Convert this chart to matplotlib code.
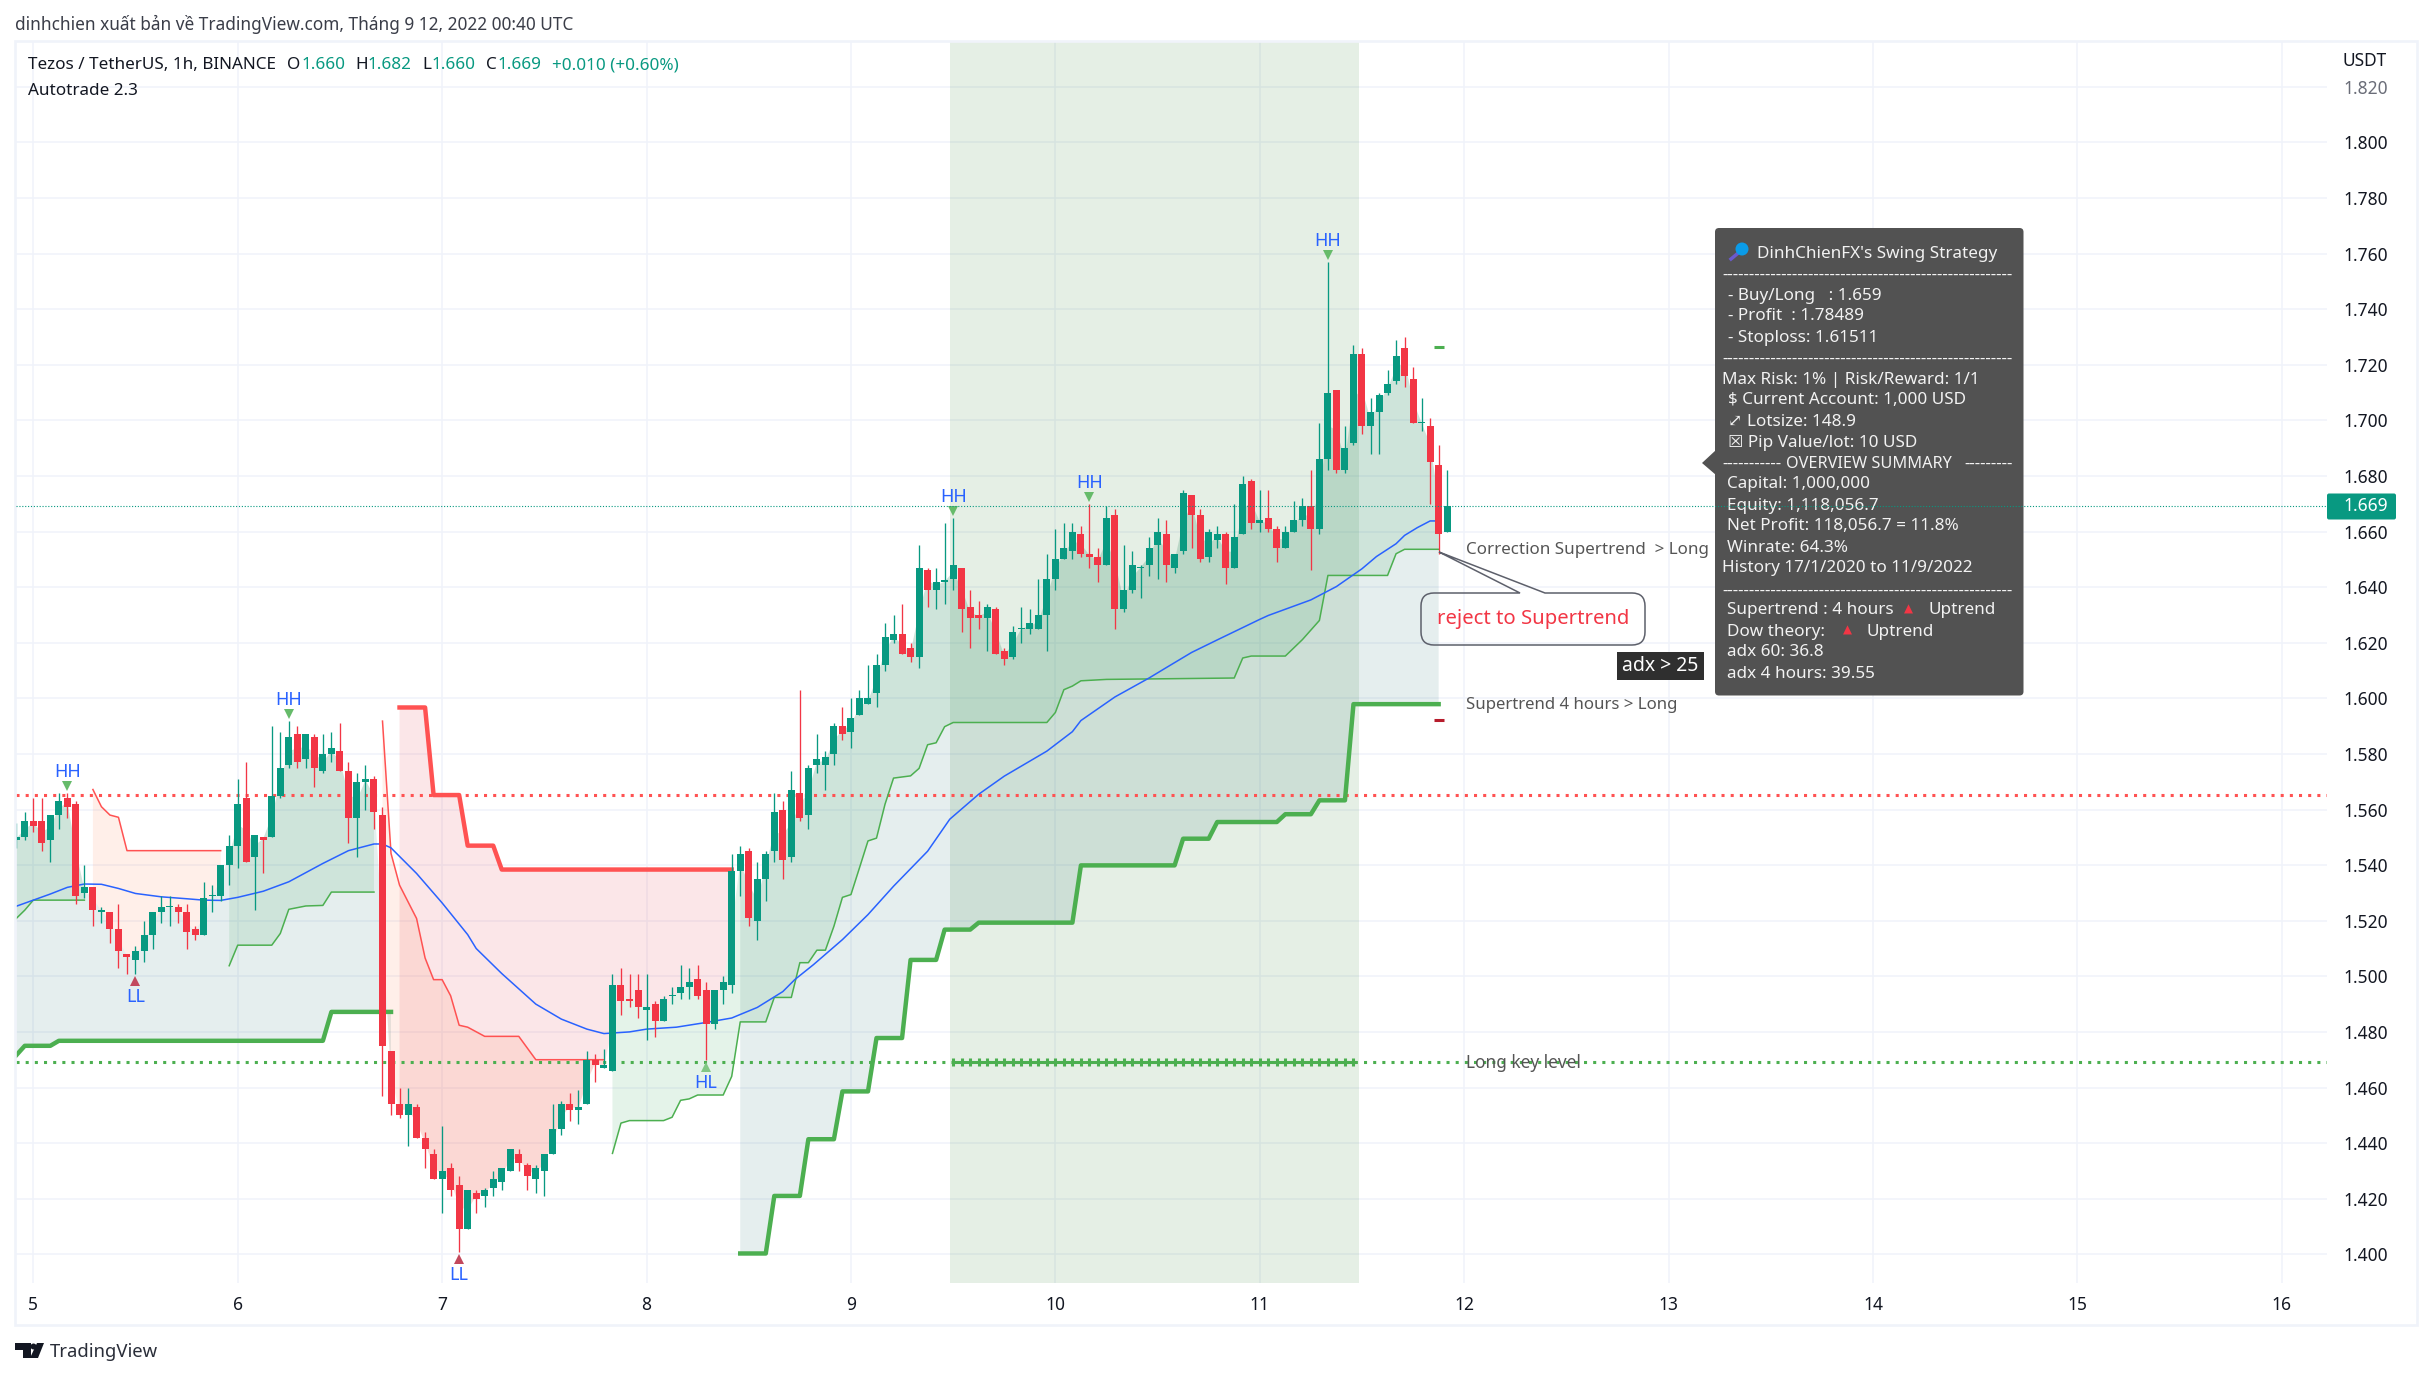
#!/usr/bin/env python3
# XTZ/USDT 1h TradingView screenshot, rebuilt with supertrend bands and tooltip.
# Bars are indexed by hours after 5 Sep 00:00, so bar 24 is the "6" tick.
import numpy as np
import matplotlib
matplotlib.use("Agg")
import matplotlib.pyplot as plt
from matplotlib import font_manager
from matplotlib.ft2font import FT2Font
from matplotlib.patches import Rectangle, FancyBboxPatch, Polygon, Circle, PathPatch
from matplotlib.path import Path
from matplotlib.lines import Line2D
from matplotlib.transforms import Affine2D, offset_copy

plt.rcParams["font.family"] = ["Noto Sans", "DejaVu Sans"]

FIRST_BAR = -2
opens = [
    1.549, 1.550, 1.556, 1.556, 1.549, 1.558, 1.564, 1.562, 1.530, 1.532,
    1.523, 1.523, 1.517, 1.508, 1.506, 1.509, 1.515, 1.523, 1.525, 1.525,
    1.523, 1.517, 1.515, 1.529, 1.529, 1.540, 1.547, 1.564, 1.543, 1.550,
    1.550, 1.565, 1.576, 1.587, 1.578, 1.586, 1.574, 1.580, 1.581, 1.574,
    1.557, 1.570, 1.571, 1.558, 1.473, 1.454, 1.450, 1.453, 1.442, 1.436,
    1.427, 1.431, 1.425, 1.409, 1.422, 1.421, 1.424, 1.426, 1.430, 1.436,
    1.432, 1.427, 1.430, 1.436, 1.445, 1.454, 1.452, 1.454, 1.470, 1.467,
    1.466, 1.497, 1.492, 1.495, 1.488, 1.490, 1.484, 1.493, 1.494, 1.496,
    1.499, 1.495, 1.483, 1.495, 1.497, 1.538, 1.545, 1.520, 1.535, 1.545,
    1.560, 1.543, 1.566, 1.558, 1.576, 1.576, 1.580, 1.590, 1.588, 1.594,
    1.598, 1.602, 1.612, 1.621, 1.623, 1.618, 1.615, 1.646, 1.639, 1.642,
    1.643, 1.647, 1.633, 1.630, 1.629, 1.632, 1.617, 1.615, 1.625, 1.625,
    1.625, 1.630, 1.643, 1.650, 1.653, 1.659, 1.652, 1.651, 1.648, 1.666,
    1.632, 1.639, 1.647, 1.648, 1.655, 1.659, 1.647, 1.653, 1.673, 1.666,
    1.651, 1.657, 1.659, 1.647, 1.659, 1.678, 1.663, 1.665, 1.661, 1.654,
    1.660, 1.664, 1.669, 1.661, 1.686, 1.711, 1.682, 1.692, 1.724, 1.698,
    1.703, 1.710, 1.714, 1.726, 1.715, 1.699, 1.698, 1.684, 1.660,
]
highs = [
    1.555, 1.559, 1.564, 1.564, 1.558, 1.566, 1.566, 1.563, 1.540, 1.532,
    1.525, 1.523, 1.526, 1.508, 1.511, 1.520, 1.523, 1.529, 1.529, 1.526,
    1.526, 1.518, 1.534, 1.533, 1.540, 1.551, 1.571, 1.577, 1.551, 1.550,
    1.590, 1.588, 1.592, 1.590, 1.587, 1.587, 1.587, 1.588, 1.591, 1.577,
    1.573, 1.576, 1.572, 1.561, 1.473, 1.460, 1.460, 1.454, 1.444, 1.438,
    1.446, 1.433, 1.428, 1.423, 1.423, 1.424, 1.430, 1.431, 1.438, 1.438,
    1.433, 1.432, 1.436, 1.454, 1.455, 1.458, 1.459, 1.473, 1.472, 1.474,
    1.501, 1.503, 1.501, 1.501, 1.501, 1.491, 1.493, 1.496, 1.504, 1.503,
    1.504, 1.498, 1.495, 1.500, 1.544, 1.547, 1.546, 1.541, 1.545, 1.566,
    1.563, 1.574, 1.603, 1.576, 1.587, 1.581, 1.591, 1.597, 1.600, 1.603,
    1.612, 1.616, 1.627, 1.630, 1.634, 1.620, 1.655, 1.647, 1.647, 1.663,
    1.665, 1.647, 1.639, 1.635, 1.634, 1.633, 1.618, 1.626, 1.633, 1.632,
    1.643, 1.652, 1.661, 1.663, 1.663, 1.662, 1.670, 1.654, 1.669, 1.668,
    1.655, 1.653, 1.648, 1.658, 1.665, 1.664, 1.652, 1.675, 1.673, 1.668,
    1.661, 1.662, 1.660, 1.670, 1.680, 1.679, 1.675, 1.675, 1.662, 1.662,
    1.671, 1.672, 1.682, 1.699, 1.757, 1.711, 1.698, 1.727, 1.726, 1.708,
    1.710, 1.718, 1.729, 1.730, 1.719, 1.708, 1.701, 1.691, 1.682,
]
lows = [
    1.546, 1.549, 1.552, 1.545, 1.541, 1.553, 1.557, 1.526, 1.528, 1.518,
    1.519, 1.512, 1.503, 1.501, 1.501, 1.505, 1.510, 1.519, 1.518, 1.519,
    1.510, 1.513, 1.515, 1.523, 1.527, 1.533, 1.539, 1.541, 1.524, 1.537,
    1.550, 1.564, 1.575, 1.575, 1.575, 1.568, 1.573, 1.577, 1.574, 1.548,
    1.543, 1.560, 1.553, 1.457, 1.450, 1.449, 1.439, 1.442, 1.431, 1.427,
    1.415, 1.421, 1.401, 1.409, 1.415, 1.417, 1.421, 1.423, 1.430, 1.430,
    1.423, 1.422, 1.421, 1.436, 1.443, 1.448, 1.447, 1.454, 1.462, 1.467,
    1.466, 1.486, 1.489, 1.485, 1.477, 1.478, 1.484, 1.490, 1.492, 1.492,
    1.492, 1.470, 1.481, 1.490, 1.494, 1.529, 1.518, 1.513, 1.527, 1.541,
    1.535, 1.541, 1.556, 1.553, 1.573, 1.567, 1.576, 1.585, 1.582, 1.594,
    1.598, 1.597, 1.610, 1.620, 1.616, 1.613, 1.611, 1.633, 1.632, 1.634,
    1.639, 1.624, 1.618, 1.625, 1.617, 1.616, 1.612, 1.614, 1.620, 1.623,
    1.625, 1.617, 1.639, 1.650, 1.650, 1.651, 1.647, 1.642, 1.648, 1.625,
    1.631, 1.638, 1.636, 1.644, 1.643, 1.642, 1.645, 1.652, 1.654, 1.649,
    1.649, 1.654, 1.641, 1.647, 1.659, 1.661, 1.660, 1.660, 1.649, 1.654,
    1.660, 1.662, 1.646, 1.659, 1.682, 1.681, 1.681, 1.691, 1.695, 1.688,
    1.688, 1.709, 1.713, 1.712, 1.699, 1.696, 1.670, 1.652, 1.660,
]
closes = [
    1.550, 1.556, 1.554, 1.548, 1.558, 1.563, 1.561, 1.529, 1.532, 1.524,
    1.524, 1.517, 1.509, 1.507, 1.509, 1.515, 1.523, 1.525, 1.525, 1.523,
    1.516, 1.515, 1.528, 1.529, 1.540, 1.547, 1.562, 1.541, 1.551, 1.549,
    1.565, 1.575, 1.586, 1.577, 1.587, 1.575, 1.580, 1.582, 1.574, 1.557,
    1.570, 1.571, 1.559, 1.475, 1.454, 1.450, 1.454, 1.442, 1.438, 1.427,
    1.430, 1.423, 1.409, 1.423, 1.420, 1.423, 1.427, 1.431, 1.438, 1.433,
    1.428, 1.431, 1.436, 1.445, 1.454, 1.452, 1.453, 1.470, 1.468, 1.468,
    1.497, 1.491, 1.491, 1.489, 1.489, 1.484, 1.492, 1.493, 1.496, 1.498,
    1.493, 1.483, 1.495, 1.498, 1.538, 1.544, 1.521, 1.535, 1.544, 1.559,
    1.542, 1.567, 1.557, 1.575, 1.578, 1.579, 1.590, 1.587, 1.593, 1.600,
    1.600, 1.612, 1.622, 1.623, 1.616, 1.615, 1.647, 1.639, 1.642, 1.642,
    1.648, 1.632, 1.629, 1.629, 1.633, 1.616, 1.614, 1.624, 1.625, 1.627,
    1.630, 1.643, 1.650, 1.654, 1.660, 1.652, 1.651, 1.648, 1.665, 1.632,
    1.639, 1.648, 1.647, 1.654, 1.660, 1.648, 1.652, 1.674, 1.666, 1.650,
    1.660, 1.659, 1.647, 1.658, 1.677, 1.663, 1.664, 1.661, 1.654, 1.660,
    1.664, 1.669, 1.661, 1.686, 1.710, 1.682, 1.690, 1.724, 1.698, 1.703,
    1.709, 1.713, 1.723, 1.716, 1.699, 1.699, 1.685, 1.659, 1.669,
]

# moving average, vertices
ema_bars = [-2, 0, 2, 4, 6, 8, 10, 12, 15, 18, 20, 22, 24, 27, 30, 34, 37, 40, 41, 42, 45, 48,
            51, 52, 55, 59, 62, 65, 67, 70, 72, 75.5, 79, 82, 85, 88, 89.4, 91.6, 95, 98, 101,
            105, 107.6, 111, 114, 119, 122, 123, 127, 131, 133, 136, 139, 144, 145, 150, 153,
            156, 157.7, 160, 161, 162.5, 164, 165]
ema_vals = [1.5252, 1.5274, 1.5296, 1.532, 1.5332, 1.5331, 1.5316, 1.5298, 1.5286, 1.5279, 1.5274,
            1.5273, 1.5284, 1.5306, 1.534, 1.5406, 1.5452, 1.5476, 1.5476, 1.5462, 1.537, 1.5264,
            1.515, 1.510, 1.501, 1.490, 1.4846, 1.481, 1.4794, 1.480, 1.481, 1.4817, 1.4834,
            1.485, 1.4888, 1.4945, 1.4988, 1.5042, 1.5132, 1.5222, 1.5324, 1.545, 1.5565, 1.5655,
            1.572, 1.581, 1.588, 1.592, 1.6005, 1.6073, 1.611, 1.6165, 1.621, 1.6284, 1.6298,
            1.6354, 1.6402, 1.6466, 1.651, 1.6556, 1.6586, 1.6614, 1.6638, 1.6638]

# correction supertrend (thin)
thin_up_a_bars = [-2, -1, 0, 6]
thin_up_a_vals = [1.5208, 1.5238, 1.5274, 1.5274]
thin_up_b_bars = [23, 24, 28, 29, 30, 32, 34, 35, 40]
thin_up_b_vals = [1.5038, 1.5112, 1.5112, 1.5154, 1.5241, 1.5253, 1.5255, 1.5303, 1.5303]
thin_up_c_bars = [68, 69, 70, 74, 75, 76, 77, 78, 81, 82, 83, 86, 87, 89, 90, 91, 92, 93, 94, 95,
                  96, 97, 98, 99, 100, 101, 103, 104, 105, 106, 107, 108, 119, 120, 121, 122, 123,
                  126, 141, 142, 143, 147, 149, 151, 152, 159, 160, 161, 165]
thin_up_c_vals = [1.4363, 1.4472, 1.4481, 1.4481, 1.4493, 1.4554, 1.4559, 1.4573, 1.4573, 1.464,
                  1.4836, 1.4836, 1.4924, 1.4924, 1.5049, 1.5049, 1.5094, 1.5094, 1.518, 1.5284,
                  1.5294, 1.539, 1.5487, 1.5497, 1.5619, 1.5713, 1.5721, 1.5748, 1.5833, 1.584,
                  1.5898, 1.5913, 1.5913, 1.5949, 1.6031, 1.6044, 1.6063, 1.6068, 1.6073, 1.6145,
                  1.6152, 1.6152, 1.6211, 1.628, 1.6442, 1.6442, 1.652, 1.6536, 1.6536]
thin_dn_a_bars = [7, 8, 9, 10, 11, 22]
thin_dn_a_vals = [1.5672, 1.561, 1.558, 1.5572, 1.5452, 1.5452]
thin_dn_b_bars = [41, 42, 43, 45, 46, 47, 48, 49, 50, 51, 53, 57, 59, 67]
thin_dn_b_vals = [1.5918, 1.5442, 1.5328, 1.5208, 1.5066, 1.4988, 1.4988, 1.493, 1.4824, 1.4817,
                  1.4784, 1.4784, 1.47, 1.47]

# 4 hour supertrend (thick)
thick_up_a_bars = [-2, -1, 2, 3, 34, 35, 42]
thick_up_a_vals = [1.4716, 1.475, 1.475, 1.4768, 1.4768, 1.4872, 1.4872]
thick_dn_bars = [43, 46, 47, 50, 51, 54, 55, 82]
thick_dn_vals = [1.5967, 1.5967, 1.5652, 1.5652, 1.547, 1.547, 1.5384, 1.5384]
thick_up_b_bars = [83, 86, 87, 90, 91, 94, 95, 98, 99, 102, 103, 106, 107, 110, 111, 122, 123, 134,
                   135, 138, 139, 146, 147, 150, 151, 154, 155, 165]
thick_up_b_vals = [1.4003, 1.4003, 1.421, 1.421, 1.4414, 1.4414, 1.4586, 1.4586, 1.4778, 1.4778,
                   1.5059, 1.5059, 1.5168, 1.5168, 1.5193, 1.5193, 1.5399, 1.5399, 1.5495, 1.5495,
                   1.5555, 1.5555, 1.5583, 1.5583, 1.5633, 1.5633, 1.5979, 1.5979]

short_level = 1.5652
long_level = 1.4693
last_price = 1.669
target_bar, target_price = 165, 1.7263
stop_bar, stop_price = 165, 1.5922
session_start, session_end = 107.6, 155.6
key_bars = list(range(108, 156))

pivot_bars = [4, 30, 108, 124, 152, 12, 50, 79]
pivot_names = ["HH", "HH", "HH", "HH", "HH", "LL", "LL", "HL"]

price_ticks = [1.40, 1.42, 1.44, 1.46, 1.48, 1.50, 1.52, 1.54, 1.56, 1.58, 1.60, 1.62, 1.64, 1.66,
               1.68, 1.70, 1.72, 1.74, 1.76, 1.78, 1.80, 1.82]
day_bars = [0, 24, 48, 72, 96, 120, 144, 168, 192, 216, 240, 264]
day_names = ["5", "6", "7", "8", "9", "10", "11", "12", "13", "14", "15", "16"]

W, H = 2432, 1378
GREEN, RED = "#089981", "#f23645"
ST_GREEN, ST_RED = "#4caf50", "#ff5252"

fig = plt.figure(figsize=(W / 100, H / 100), dpi=100, facecolor="white")
# pane spans x 16..2327, y 41..1283 in pixels
ax = fig.add_axes([16 / W, 1 - 1283 / H, (2327 - 16) / W, (1283 - 41) / H])
px = Affine2D().scale(1, -1).translate(0, H)  # overlay coordinates, y down
ax.set_xlim(-2.03, 269.3)
ax.set_ylim(1.38968, 1.83644)
for s in ax.spines.values():
    s.set_visible(False)

bars = np.arange(len(closes)) + FIRST_BAR
o, h, l, c = map(np.array, (opens, highs, lows, closes))
body_mid = (o + c) / 2

ax.set_xticks(day_bars, day_names)
ax.set_yticks(price_ticks, ["%.3f" % p for p in price_ticks])
ax.yaxis.tick_right()
ax.tick_params(axis="both", length=0, labelsize=12.5, labelcolor="#131722")
ax.tick_params(axis="y", pad=11.5)
ax.tick_params(axis="x", pad=9)
ax.get_yticklabels()[-1].set_color("#6a6d78")
ax.grid(True, color="#f0f3fa", lw=1.1, zorder=0)
ax.set_axisbelow(True)

ax.axvspan(session_start, session_end, color=(0, 0.39, 0), alpha=0.1, lw=0, zorder=1)


def band(line_bars, line_vals, color, alpha):
    # polygon between candle body middle and a trend line
    i0, i1 = int(line_bars[0]), int(line_bars[-1])
    mask = (bars >= i0) & (bars <= i1)
    xs = np.concatenate([bars[mask], line_bars[::-1]])
    ys = np.concatenate([body_mid[mask], line_vals[::-1]])
    ax.fill(xs, ys, color=color, alpha=alpha, lw=0, zorder=1.5)


BLUEGREY = (0, 90 / 255, 90 / 255)
band(thick_up_a_bars, thick_up_a_vals, BLUEGREY, 0.1)
band(thick_up_b_bars, thick_up_b_vals, BLUEGREY, 0.1)
band(thick_dn_bars, thick_dn_vals, (230 / 255, 54 / 255, 69 / 255), 0.12)
for bb, vv in ((thin_up_a_bars, thin_up_a_vals), (thin_up_b_bars, thin_up_b_vals),
               (thin_up_c_bars, thin_up_c_vals)):
    band(bb, vv, "#4caf6e", 0.15)
for bb, vv in ((thin_dn_a_bars, thin_dn_a_vals), (thin_dn_b_bars, thin_dn_b_vals)):
    band(bb, vv, (1.0, 100 / 255, 40 / 255), 0.1)

ax.axhline(short_level, color=ST_RED, lw=2.2, ls=(0, (1, 2)), zorder=2, dash_capstyle="butt")
ax.axhline(long_level, color=ST_GREEN, lw=2.2, ls=(0, (1, 2)), zorder=2, dash_capstyle="butt")
ax.plot(key_bars, [long_level] * len(key_bars), color=ST_GREEN, lw=2.2, marker="|", ms=6,
        mew=2.2, zorder=2.1, solid_capstyle="projecting")

for bb, vv in ((thin_up_a_bars, thin_up_a_vals), (thin_up_b_bars, thin_up_b_vals),
               (thin_up_c_bars, thin_up_c_vals)):
    ax.plot(bb, vv, color=ST_GREEN, lw=1.1, zorder=2.5)
for bb, vv in ((thin_dn_a_bars, thin_dn_a_vals), (thin_dn_b_bars, thin_dn_b_vals)):
    ax.plot(bb, vv, color=ST_RED, lw=1.1, zorder=2.5)
for bb, vv in ((thick_up_a_bars, thick_up_a_vals), (thick_up_b_bars, thick_up_b_vals)):
    ax.plot(bb, vv, color=ST_GREEN, lw=3.2, zorder=2.6)
ax.plot(thick_dn_bars, thick_dn_vals, color=ST_RED, lw=3.2, zorder=2.6)
ax.plot(ema_bars, ema_vals, color="#2962ff", lw=1.1, zorder=2.7)

ax.plot([target_bar], [target_price], marker="_", ms=7, mew=2.2, color=ST_GREEN, zorder=3)
ax.plot([stop_bar], [stop_price], marker="_", ms=7, mew=2.2, color="#b71c2c", zorder=3)

colors = np.where(c >= o, GREEN, RED)
ax.vlines(bars, l, h, colors=colors, lw=0.95, zorder=4)
ax.bar(bars, np.maximum(np.abs(c - o), 0.0004), bottom=np.minimum(o, c), width=0.82,
       color=colors, lw=0, zorder=4.1)

# swing labels sit a fixed pixel distance from the wick
for b, name in zip(pivot_bars, pivot_names):
    k = b - FIRST_BAR
    above = name == "HH"
    tri_off = 7 * 0.72 if above else -7 * 0.72
    txt_off = 21 * 0.72 if above else -23 * 0.72
    tr = offset_copy(ax.transData, fig=fig, x=0, y=tri_off, units="points")
    anchor = h[k] if above else l[k]
    if above:
        mcol = "#66bb6a"
    else:
        mcol = "#81c784" if name == "HL" else "#c2485c"
    ax.plot([b], [anchor], marker="v" if above else "^", ms=6.5, mew=0, color=mcol,
            transform=tr, zorder=4.5)
    ax.annotate(name, (b, anchor), xytext=(0, txt_off), textcoords="offset points", ha="center",
                va="center", fontsize=13, color="#2962ff", zorder=5)


def ptext(x, y, s, size=12.5, color="#131722", ha="left", z=20, **kw):
    return fig.text(x, y, s, transform=px, fontsize=size, color=color, ha=ha, va="center",
                    zorder=z, **kw)


# pane outline
fig.add_artist(Rectangle((15, 41), 2402, 1284, transform=px, fill=False, ec="#f0f3fa", lw=1.9,
                         zorder=1))

ptext(15, 24, "dinhchien xuất bản về TradingView.com, Tháng 9 12, 2022 00:40 UTC", size=12.4,
      color="#3a3d48")
ptext(28, 65, "Tezos / TetherUS, 1h, BINANCE", size=12.3)
for x, s, col in ((287, "O", "#131722"), (301, "1.660", GREEN), (355, "H", "#131722"),
                  (367, "1.682", GREEN), (422, "L", "#131722"), (431, "1.660", GREEN),
                  (486, "C", "#131722"), (497, "1.669", GREEN), (552, "+0.010 (+0.60%)", GREEN)):
    ptext(x, 65, s, size=12.3, color=col)
ptext(28, 91, "Autotrade 2.3", size=12.3)
ptext(2343, 61, "USDT", size=12.5)

# right hand notes
NOTE = "#555555"
ptext(1466, 550, "Correction Supertrend  > Long", size=12.25, color=NOTE)
ptext(1466, 705, "Supertrend 4 hours > Long", size=12.1, color=NOTE)
ptext(1466, 1063, "Long key level", size=12.4, color=NOTE)

# callout with tail
x0, x1, y0, y1, r = 1421, 1645, 593, 645, 13
verts = [(1439, 552), (1545, y0), (x1 - r, y0), (x1, y0), (x1, y0 + r), (x1, y1 - r), (x1, y1),
         (x1 - r, y1), (x0 + r, y1), (x0, y1), (x0, y1 - r), (x0, y0 + r), (x0, y0), (x0 + r, y0),
         (1520, y0), (1439, 552)]
codes = [Path.MOVETO, Path.LINETO, Path.LINETO, Path.CURVE3, Path.CURVE3, Path.LINETO, Path.CURVE3,
         Path.CURVE3, Path.LINETO, Path.CURVE3, Path.CURVE3, Path.LINETO, Path.CURVE3, Path.CURVE3,
         Path.LINETO, Path.LINETO]
fig.add_artist(PathPatch(Path(verts, codes), transform=px, fill=False, ec="#5d606b", lw=1.1,
                         zorder=15))
ptext(1437, 619, "reject to Supertrend", size=14.6, color=RED)

fig.add_artist(Rectangle((1617, 652), 87, 28, transform=px, fc="#2f2f2f", ec="none", zorder=15))
ptext(1660.5, 666, "adx > 25", size=14, color="white", ha="center")

# tooltip
TIP = "#525252"
fig.add_artist(Polygon([(1716, 450), (1702, 463), (1716, 475)], transform=px, fc=TIP, ec="none",
                       zorder=16))
fig.add_artist(FancyBboxPatch((1715, 228), 308.5, 467.5, boxstyle="round,pad=0,rounding_size=4",
                              transform=px, fc=TIP, ec="none", zorder=16))
fig.add_artist(Line2D([1737, 1731], [254, 259], transform=px, color="#6a5acd", lw=2.5, zorder=17))
fig.add_artist(Circle((1742, 249), 6.5, transform=px, fc="#0a9be8", ec="none", zorder=17))

DASHES = "-" * 54
tip_lines = [
    (1757, 253.5, "DinhChienFX's Swing Strategy"),
    (1722, 274.5, DASHES),
    (1728, 295.5, "- Buy/Long   : 1.659"),
    (1728, 316.5, "- Profit  : 1.78489"),
    (1728, 337.5, "- Stoploss: 1.61511"),
    (1722, 358.5, DASHES),
    (1722, 379.5, "Max Risk: 1% | Risk/Reward: 1/1"),
    (1728, 400.5, "$ Current Account: 1,000 USD"),
    (1747, 421.5, "Lotsize: 148.9"),
    (1728, 442.5, "☒ Pip Value/lot: 10 USD"),
    (1722, 463.5, "-" * 11),
    (1964, 463.5, "-" * 9),
    (1727, 484.5, "Capital: 1,000,000"),
    (1727, 505.5, "Equity: 1,118,056.7"),
    (1727, 526.5, "Net Profit: 118,056.7 = 11.8%"),
    (1727, 547.5, "Winrate: 64.3%"),
    (1722, 568.5, "History 17/1/2020 to 11/9/2022"),
    (1722, 590.5, DASHES),
    (1727, 610.5, "Supertrend : 4 hours"),
    (1929, 610.5, "Uptrend"),
    (1727, 631.5, "Dow theory:"),
    (1867, 631.5, "Uptrend"),
    (1727, 652.5, "adx 60: 36.8"),
    (1727, 673.5, "adx 4 hours: 39.55"),
]
for x, y, s in tip_lines:
    ptext(x, y, s, size=12.3, color="#f2f2f2", z=18)
ptext(1786, 463.5, "OVERVIEW SUMMARY", size=11.7, color="#f2f2f2", z=18)
ptext(1904, 609.5, "▲", size=8.5, color="#f23645", z=18)
ptext(1843, 630.5, "▲", size=8.5, color="#f23645", z=18)


def family_with(ch):
    # first installed font that really has this glyph
    for f in font_manager.fontManager.ttflist:
        try:
            if FT2Font(f.fname).get_char_index(ord(ch)):
                return f.name
        except Exception:
            continue
    return None


arrow_family = family_with("⤢")
if arrow_family:
    ptext(1728, 421.5, "⤢", size=12.3, color="#f2f2f2", z=18, family=[arrow_family])
else:
    # no installed font has the double arrow
    for xs, ys in (([1730, 1741], [428, 415]), ([1736, 1741, 1741], [415, 415, 420]),
                   ([1730, 1730, 1735], [423, 428, 428])):
        fig.add_artist(Line2D(xs, ys, transform=px, color="#f2f2f2", lw=1, zorder=18))

# last price line runs over the tooltip, then the tag
fig.add_artist(Line2D([0, 1], [last_price, last_price], transform=ax.get_yaxis_transform(),
                      color=GREEN, lw=0.8, ls=(0, (1, 1.6)), zorder=19))
fig.add_artist(FancyBboxPatch((2327, 493.5), 69, 26, boxstyle="round,pad=0,rounding_size=2",
                              transform=px, fc=GREEN, ec="none", zorder=20))
ptext(2343, 506, "%.3f" % last_price, size=12.5, color="white", z=21)

# TradingView mark
LOGO = "#131722"
fig.add_artist(Polygon([(15, 1343), (31, 1343), (31, 1358), (23, 1358), (23, 1350), (15, 1350)],
                       transform=px, fc=LOGO, ec="none", zorder=20))
fig.add_artist(Circle((33.5, 1346.5), 3, transform=px, fc=LOGO, ec="none", zorder=20))
fig.add_artist(Polygon([(37, 1343), (44, 1343), (38, 1358), (30, 1358)], transform=px, fc=LOGO,
                       ec="none", zorder=20))
ptext(50, 1352, "TradingView", size=13.3, color="#2a2e39")

fig.savefig("out.png", dpi=100)
